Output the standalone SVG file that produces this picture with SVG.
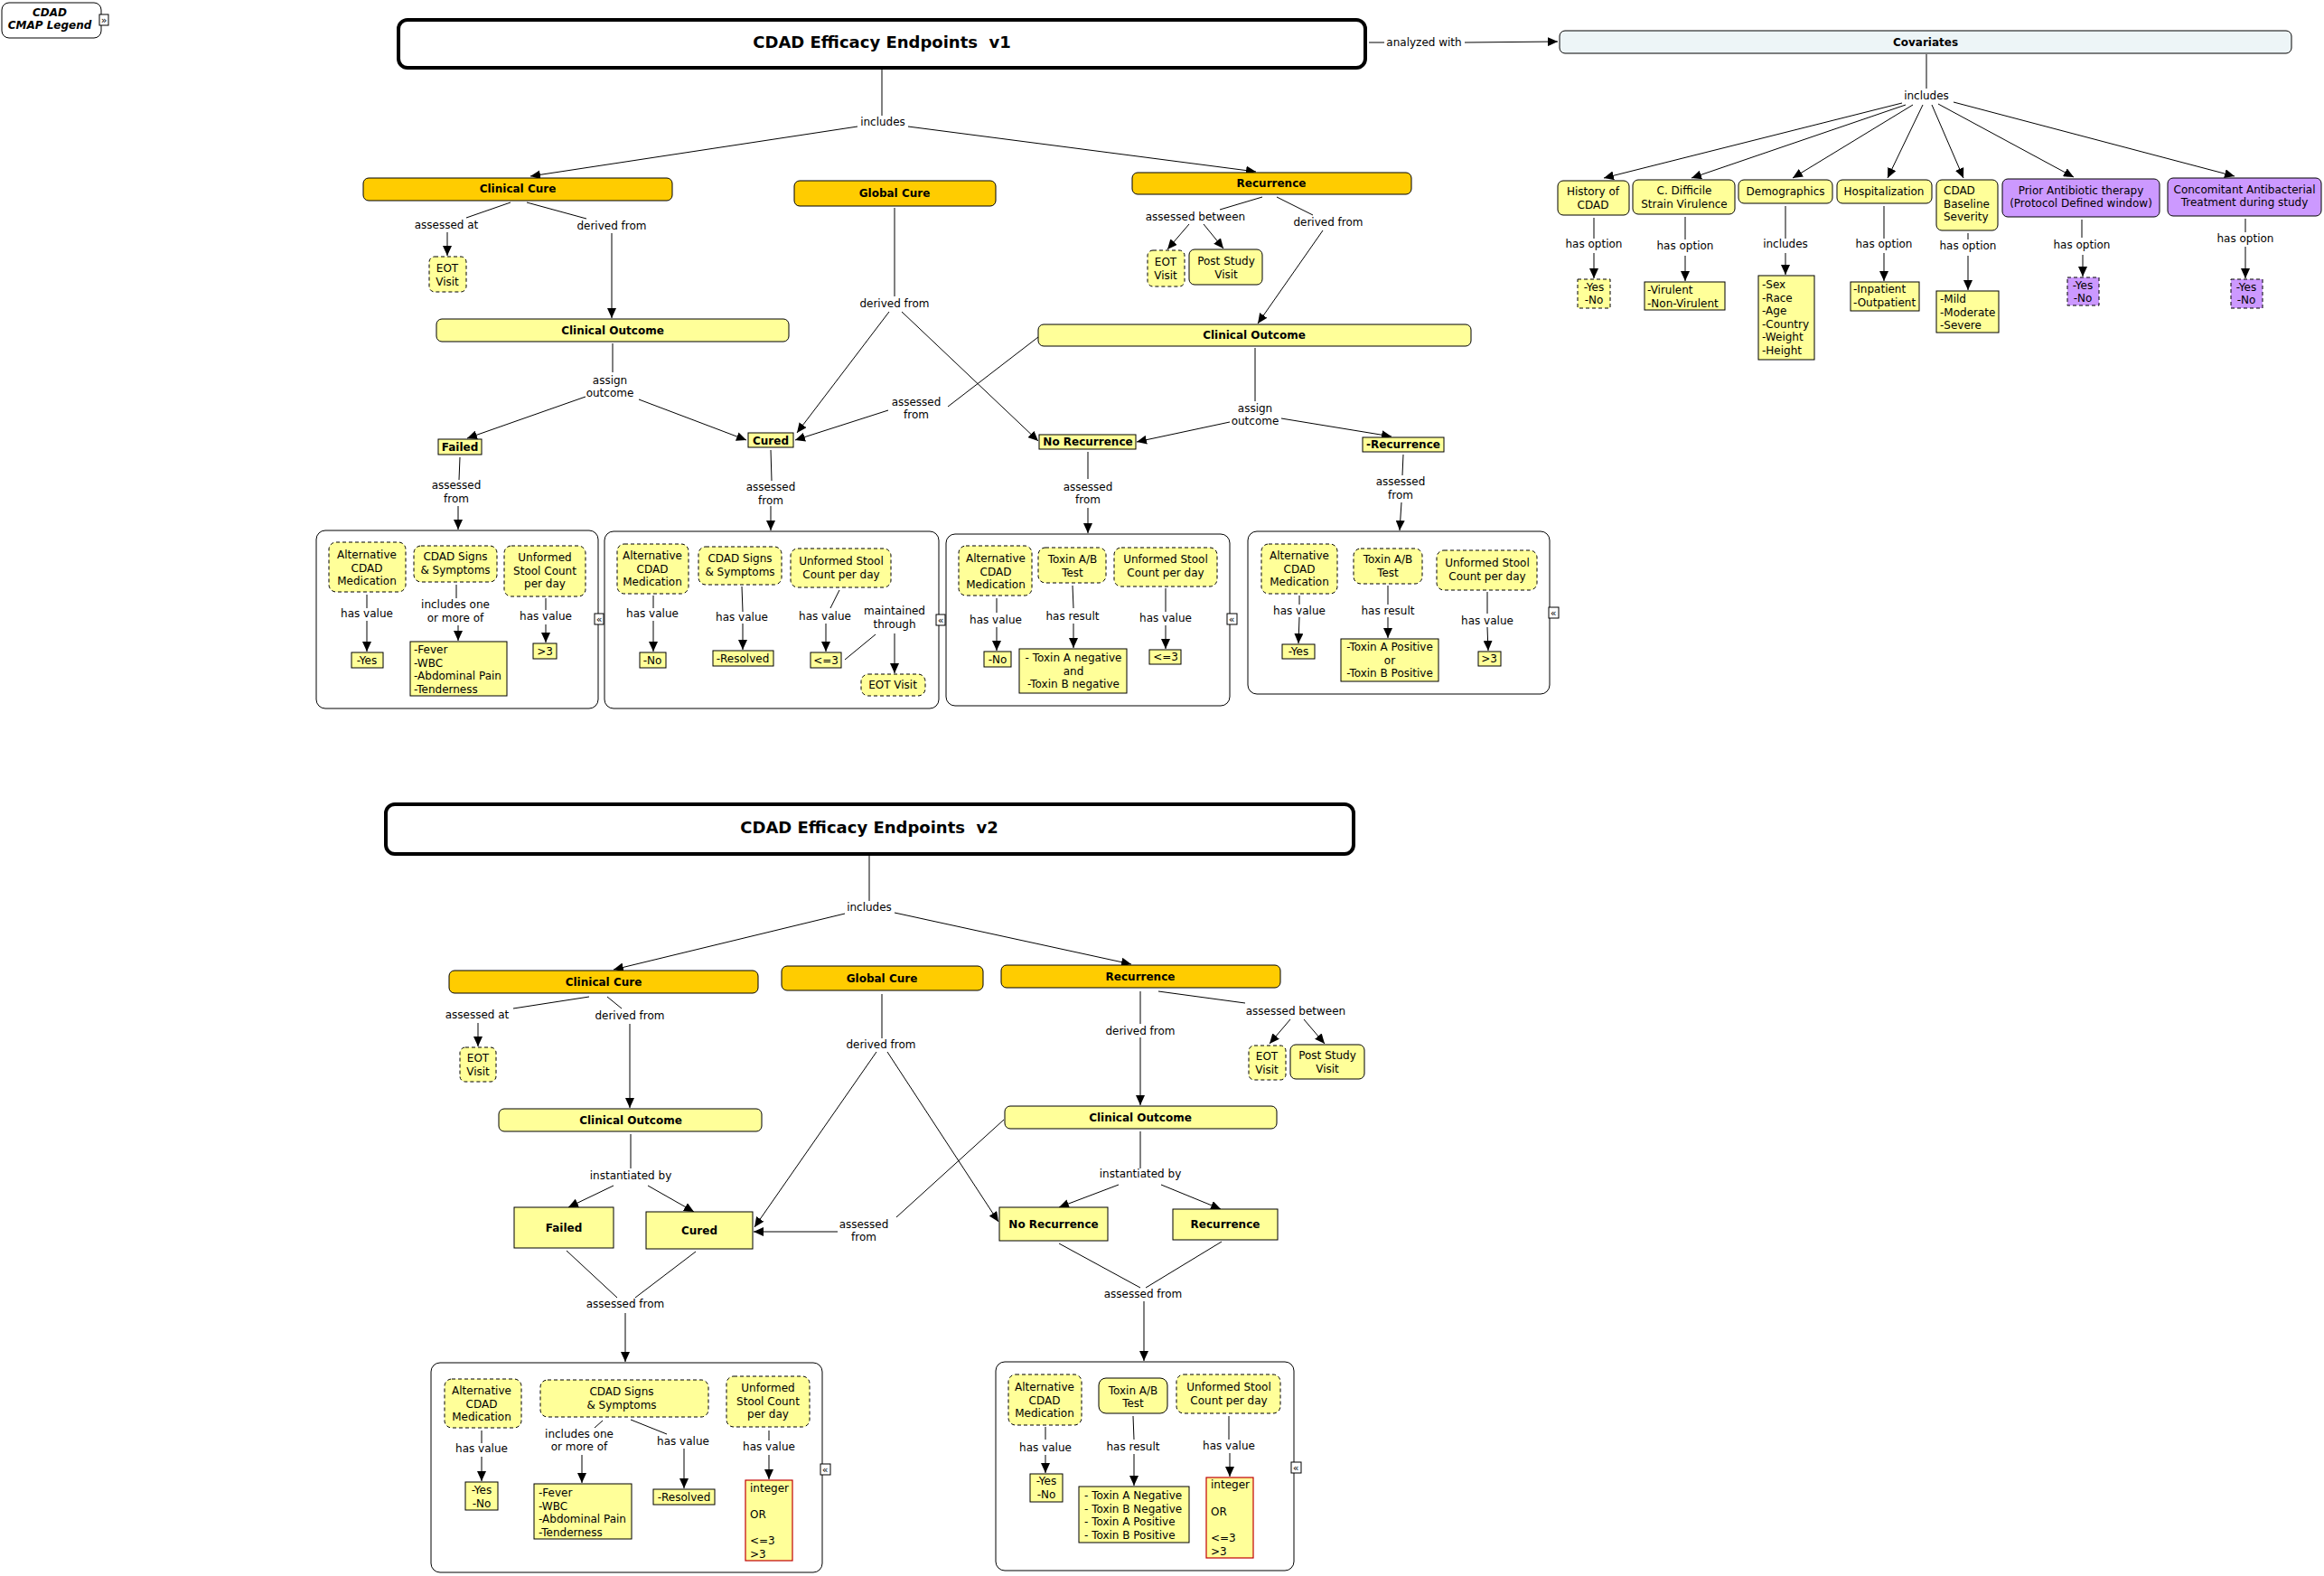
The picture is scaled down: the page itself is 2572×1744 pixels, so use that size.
<svg xmlns="http://www.w3.org/2000/svg" width="2572" height="1744" viewBox="0 0 2572 1744">
<style>
text{font-family:"DejaVu Sans",Verdana,sans-serif;font-size:12px;fill:#000}
.m{text-anchor:middle}
.b{font-weight:bold}
.t{font-size:18px;font-weight:bold;text-anchor:middle}
.ic{font-size:11px;text-anchor:middle}
.gold{fill:#FFCC00;stroke:#000;stroke-width:1}
.yel{fill:#FFFF99;stroke:#000;stroke-width:1}
.pur{fill:#CC99FF;stroke:#000;stroke-width:1}
.d{stroke-dasharray:4 3}
.red{fill:#FFFF99;stroke:#C00000;stroke-width:1.2}
.cont{fill:none;stroke:#000;stroke-width:1}
.ttl{fill:#fff;stroke:#000;stroke-width:4}
.icon{fill:#fff;stroke:#000;stroke-width:1}
#connectors line{stroke:#000;stroke-width:1;fill:none}
#connectors line.a{marker-end:url(#arr)}
</style>
<defs>
<marker id="arr" viewBox="0 0 11 10" refX="11" refY="5" markerWidth="11" markerHeight="10" markerUnits="userSpaceOnUse" orient="auto">
<path d="M0,0 L11,5 L0,10 z" fill="#000"/>
</marker>
</defs>
<rect width="2572" height="1744" fill="#fff"/>

<g id="connectors">
<!-- v1 top -->
<line x1="976" y1="77" x2="976" y2="128"/>
<line class="a" x1="949" y1="140" x2="587" y2="195"/>
<line class="a" x1="1005" y1="140" x2="1390" y2="190"/>
<line x1="1515" y1="47" x2="1532" y2="47"/>
<line class="a" x1="1621" y1="47" x2="1724" y2="46"/>
<!-- covariates -->
<line x1="2132" y1="60" x2="2132" y2="98"/>
<line class="a" x1="2105" y1="114" x2="1775" y2="197"/>
<line class="a" x1="2109" y1="116" x2="1872" y2="197"/>
<line class="a" x1="2117" y1="116" x2="1984" y2="197"/>
<line class="a" x1="2128" y1="116" x2="2089" y2="197"/>
<line class="a" x1="2138" y1="116" x2="2173" y2="197"/>
<line class="a" x1="2145" y1="115" x2="2295" y2="196"/>
<line class="a" x1="2162" y1="113" x2="2473" y2="195"/>
<line x1="1764" y1="241" x2="1764" y2="264"/>
<line class="a" x1="1764" y1="280" x2="1764" y2="308"/>
<line x1="1865" y1="240" x2="1865" y2="265"/>
<line class="a" x1="1865" y1="283" x2="1865" y2="311"/>
<line x1="1976" y1="228" x2="1976" y2="264"/>
<line class="a" x1="1976" y1="280" x2="1976" y2="304"/>
<line x1="2085" y1="228" x2="2085" y2="264"/>
<line class="a" x1="2085" y1="280" x2="2085" y2="311"/>
<line x1="2178" y1="258" x2="2178" y2="265"/>
<line class="a" x1="2178" y1="283" x2="2178" y2="321"/>
<line x1="2304" y1="243" x2="2304" y2="263"/>
<line class="a" x1="2305" y1="282" x2="2305" y2="306"/>
<line x1="2485" y1="242" x2="2485" y2="257"/>
<line class="a" x1="2485" y1="273" x2="2485" y2="308"/>
<!-- clinical cure v1 -->
<line x1="565" y1="224" x2="516" y2="241"/>
<line class="a" x1="495" y1="257" x2="495" y2="283"/>
<line x1="583" y1="224" x2="649" y2="242"/>
<line class="a" x1="677" y1="258" x2="677" y2="352"/>
<line x1="678" y1="380" x2="678" y2="412"/>
<line class="a" x1="648" y1="439" x2="517" y2="485"/>
<line class="a" x1="707" y1="442" x2="826" y2="487"/>
<line x1="509" y1="506" x2="508" y2="531"/>
<line class="a" x1="507" y1="560" x2="507" y2="586"/>
<line x1="853" y1="498" x2="854" y2="532"/>
<line class="a" x1="853" y1="560" x2="853" y2="587"/>
<!-- global cure v1 -->
<line x1="990" y1="230" x2="990" y2="328"/>
<line class="a" x1="984" y1="345" x2="882" y2="479"/>
<line class="a" x1="998" y1="345" x2="1149" y2="488"/>
<line x1="1049" y1="450" x2="1149" y2="373"/>
<line class="a" x1="983" y1="454" x2="880" y2="487"/>
<!-- recurrence v1 -->
<line x1="1397" y1="218" x2="1350" y2="232"/>
<line class="a" x1="1316" y1="248" x2="1292" y2="276"/>
<line class="a" x1="1332" y1="248" x2="1354" y2="275"/>
<line x1="1413" y1="218" x2="1453" y2="238"/>
<line class="a" x1="1464" y1="255" x2="1392" y2="358"/>
<line x1="1389" y1="385" x2="1389" y2="444"/>
<line class="a" x1="1361" y1="467" x2="1258" y2="489"/>
<line class="a" x1="1418" y1="463" x2="1540" y2="483"/>
<line x1="1204" y1="500" x2="1204" y2="530"/>
<line class="a" x1="1204" y1="562" x2="1204" y2="590"/>
<line x1="1553" y1="503" x2="1552" y2="526"/>
<line class="a" x1="1551" y1="556" x2="1549" y2="587"/>
<!-- container 1 -->
<line x1="406" y1="658" x2="406" y2="673"/>
<line class="a" x1="406" y1="687" x2="406" y2="721"/>
<line x1="505" y1="647" x2="505" y2="662"/>
<line class="a" x1="507" y1="692" x2="507" y2="709"/>
<line x1="604" y1="662" x2="604" y2="675"/>
<line class="a" x1="604" y1="691" x2="604" y2="711"/>
<!-- container 2 -->
<line x1="723" y1="659" x2="723" y2="673"/>
<line class="a" x1="723" y1="687" x2="723" y2="721"/>
<line x1="821" y1="649" x2="822" y2="677"/>
<line class="a" x1="822" y1="690" x2="822" y2="719"/>
<line x1="929" y1="653" x2="919" y2="673"/>
<line class="a" x1="914" y1="690" x2="914" y2="721"/>
<line x1="935" y1="730" x2="969" y2="702"/>
<line class="a" x1="990" y1="701" x2="990" y2="745"/>
<!-- container 3 -->
<line x1="1103" y1="662" x2="1103" y2="678"/>
<line class="a" x1="1103" y1="694" x2="1103" y2="720"/>
<line x1="1187" y1="648" x2="1188" y2="673"/>
<line class="a" x1="1188" y1="690" x2="1188" y2="717"/>
<line x1="1290" y1="651" x2="1290" y2="677"/>
<line class="a" x1="1290" y1="692" x2="1290" y2="718"/>
<!-- container 4 -->
<line x1="1438" y1="659" x2="1438" y2="669"/>
<line class="a" x1="1438" y1="683" x2="1437" y2="712"/>
<line x1="1536" y1="648" x2="1536" y2="669"/>
<line class="a" x1="1536" y1="683" x2="1536" y2="706"/>
<line x1="1646" y1="655" x2="1646" y2="679"/>
<line class="a" x1="1646" y1="694" x2="1647" y2="720"/>
<!-- v2 -->
<line x1="962" y1="947" x2="962" y2="997"/>
<line class="a" x1="935" y1="1011" x2="679" y2="1073"/>
<line class="a" x1="990" y1="1010" x2="1252" y2="1067"/>
<line x1="652" y1="1103" x2="568" y2="1116"/>
<line class="a" x1="529" y1="1132" x2="529" y2="1158"/>
<line x1="672" y1="1103" x2="688" y2="1116"/>
<line class="a" x1="697" y1="1133" x2="697" y2="1226"/>
<line x1="698" y1="1255" x2="698" y2="1293"/>
<line class="a" x1="679" y1="1312" x2="629" y2="1336"/>
<line class="a" x1="717" y1="1312" x2="768" y2="1341"/>
<line x1="976" y1="1100" x2="976" y2="1149"/>
<line class="a" x1="970" y1="1164" x2="835" y2="1358"/>
<line class="a" x1="982" y1="1164" x2="1105" y2="1352"/>
<line x1="992" y1="1347" x2="1111" y2="1239"/>
<line class="a" x1="927" y1="1363" x2="834" y2="1363"/>
<line x1="1262" y1="1097" x2="1262" y2="1133"/>
<line class="a" x1="1262" y1="1148" x2="1262" y2="1223"/>
<line x1="1282" y1="1097" x2="1378" y2="1110"/>
<line class="a" x1="1428" y1="1128" x2="1405" y2="1155"/>
<line class="a" x1="1443" y1="1128" x2="1466" y2="1155"/>
<line x1="1262" y1="1252" x2="1262" y2="1293"/>
<line class="a" x1="1238" y1="1311" x2="1172" y2="1336"/>
<line class="a" x1="1285" y1="1311" x2="1351" y2="1338"/>
<line x1="1172" y1="1376" x2="1262" y2="1425"/>
<line x1="1352" y1="1374" x2="1268" y2="1425"/>
<line class="a" x1="1266" y1="1440" x2="1266" y2="1506"/>
<line x1="627" y1="1384" x2="683" y2="1436"/>
<line x1="770" y1="1385" x2="703" y2="1436"/>
<line class="a" x1="692" y1="1453" x2="692" y2="1507"/>
<!-- container L2 -->
<line x1="533" y1="1583" x2="533" y2="1597"/>
<line class="a" x1="533" y1="1612" x2="533" y2="1639"/>
<line x1="667" y1="1572" x2="658" y2="1580"/>
<line class="a" x1="644" y1="1610" x2="644" y2="1641"/>
<line x1="698" y1="1571" x2="738" y2="1587"/>
<line class="a" x1="757" y1="1603" x2="757" y2="1647"/>
<line x1="851" y1="1583" x2="851" y2="1594"/>
<line class="a" x1="851" y1="1610" x2="851" y2="1637"/>
<!-- container R2 -->
<line x1="1157" y1="1579" x2="1157" y2="1593"/>
<line class="a" x1="1157" y1="1610" x2="1157" y2="1630"/>
<line x1="1254" y1="1567" x2="1255" y2="1593"/>
<line class="a" x1="1255" y1="1609" x2="1255" y2="1644"/>
<line x1="1360" y1="1567" x2="1360" y2="1593"/>
<line class="a" x1="1361" y1="1608" x2="1361" y2="1634"/>
</g>

<g id="labels">
<text id="l-analyzed" class="m" x="1576" y="51">analyzed with</text>
<text id="l-inc1" class="m" x="977" y="139">includes</text>
<text id="l-inccov" class="m" x="2132" y="110">includes</text>
<text id="l-ho1" class="m" x="1764" y="274">has option</text>
<text id="l-ho2" class="m" x="1865" y="276">has option</text>
<text id="l-inc-dem" class="m" x="1976" y="274">includes</text>
<text id="l-ho3" class="m" x="2085" y="274">has option</text>
<text id="l-ho4" class="m" x="2178" y="276">has option</text>
<text id="l-ho5" class="m" x="2304" y="275">has option</text>
<text id="l-ho6" class="m" x="2485" y="268">has option</text>
<text id="l-aat1" class="m" x="494" y="253">assessed at</text>
<text id="l-df1" class="m" x="677" y="254">derived from</text>
<text id="l-ao1" class="m" x="675" y="425">assign<tspan x="675" dy="14">outcome</tspan></text>
<text id="l-af1" class="m" x="505" y="541">assessed<tspan x="505" dy="15">from</tspan></text>
<text id="l-af2" class="m" x="853" y="543">assessed<tspan x="853" dy="15">from</tspan></text>
<text id="l-dfg1" class="m" x="990" y="340">derived from</text>
<text id="l-af3" class="m" x="1014" y="449">assessed<tspan x="1014" dy="14">from</tspan></text>
<text id="l-ab1" class="m" x="1323" y="244">assessed between</text>
<text id="l-dfr1" class="m" x="1470" y="250">derived from</text>
<text id="l-ao2" class="m" x="1389" y="456">assign<tspan x="1389" dy="14">outcome</tspan></text>
<text id="l-af4" class="m" x="1204" y="543">assessed<tspan x="1204" dy="14">from</tspan></text>
<text id="l-af5" class="m" x="1550" y="537">assessed<tspan x="1550" dy="15">from</tspan></text>
<text id="l-c1hv1" class="m" x="406" y="683">has value</text>
<text id="l-c1inc" class="m" x="504" y="673">includes one<tspan x="504" dy="15">or more of</tspan></text>
<text id="l-c1hv2" class="m" x="604" y="686">has value</text>
<text id="l-c2hv1" class="m" x="722" y="683">has value</text>
<text id="l-c2hv2" class="m" x="821" y="687">has value</text>
<text id="l-c2hv3" class="m" x="913" y="686">has value</text>
<text id="l-c2mt" class="m" x="990" y="680">maintained<tspan x="990" dy="15">through</tspan></text>
<text id="l-c3hv1" class="m" x="1102" y="690">has value</text>
<text id="l-c3hr" class="m" x="1187" y="686">has result</text>
<text id="l-c3hv2" class="m" x="1290" y="688">has value</text>
<text id="l-c4hv1" class="m" x="1438" y="680">has value</text>
<text id="l-c4hr" class="m" x="1536" y="680">has result</text>
<text id="l-c4hv2" class="m" x="1646" y="691">has value</text>
<text id="l-inc2" class="m" x="962" y="1008">includes</text>
<text id="l-aat2" class="m" x="528" y="1127">assessed at</text>
<text id="l-df2" class="m" x="697" y="1128">derived from</text>
<text id="l-ib1" class="m" x="698" y="1305">instantiated by</text>
<text id="l-dfg2" class="m" x="975" y="1160">derived from</text>
<text id="l-af6" class="m" x="956" y="1359">assessed<tspan x="956" dy="14">from</tspan></text>
<text id="l-dfr2" class="m" x="1262" y="1145">derived from</text>
<text id="l-ab2" class="m" x="1434" y="1123">assessed between</text>
<text id="l-ib2" class="m" x="1262" y="1303">instantiated by</text>
<text id="l-af7" class="m" x="1265" y="1436">assessed from</text>
<text id="l-af8" class="m" x="692" y="1447">assessed from</text>
<text id="l-l2hv1" class="m" x="533" y="1607">has value</text>
<text id="l-l2inc" class="m" x="641" y="1591">includes one<tspan x="641" dy="14">or more of</tspan></text>
<text id="l-l2hv2" class="m" x="756" y="1599">has value</text>
<text id="l-l2hv3" class="m" x="851" y="1605">has value</text>
<text id="l-r2hv1" class="m" x="1157" y="1606">has value</text>
<text id="l-r2hr" class="m" x="1254" y="1605">has result</text>
<text id="l-r2hv2" class="m" x="1360" y="1604">has value</text>
</g>

<g id="legend">
<rect x="2" y="3" width="110" height="39" rx="8" fill="#fff" stroke="#000"/>
<text class="m b" font-style="italic" x="55" y="18">CDAD</text>
<text class="m b" font-style="italic" x="55" y="32">CMAP Legend</text>
<rect class="icon" x="110" y="16" width="10" height="12"/>
<text class="ic" x="115" y="26">»</text>
</g>

<g id="title-v1"><rect class="ttl" x="441" y="22" width="1070" height="53" rx="10"/><text class="t" x="976" y="53">CDAD Efficacy Endpoints&#160; v1</text></g>
<g id="covariates"><rect x="1726" y="34" width="810" height="25" rx="6" fill="#EDF5F7" stroke="#000"/><text class="m b" x="2131" y="51">Covariates</text></g>

<g id="cov-history"><rect class="yel" x="1724" y="200" width="79" height="38" rx="6"/><text class="m" x="1763" y="216">History of<tspan x="1763" dy="15">CDAD</tspan></text></g>
<g id="cov-strain"><rect class="yel" x="1807" y="199" width="113" height="38" rx="6"/><text class="m" x="1864" y="215">C. Difficile<tspan x="1864" dy="15">Strain Virulence</tspan></text></g>
<g id="cov-demo"><rect class="yel" x="1924" y="199" width="104" height="26" rx="6"/><text class="m" x="1976" y="216">Demographics</text></g>
<g id="cov-hosp"><rect class="yel" x="2033" y="199" width="105" height="26" rx="6"/><text class="m" x="2085" y="216">Hospitalization</text></g>
<g id="cov-sev"><rect class="yel" x="2143" y="199" width="68" height="56" rx="6"/><text x="2151" y="215">CDAD<tspan x="2151" dy="15">Baseline</tspan><tspan x="2151" dy="14">Severity</tspan></text></g>
<g id="cov-prior"><rect class="pur" x="2216" y="198" width="174" height="42" rx="6"/><text class="m" x="2303" y="215">Prior Antibiotic therapy<tspan x="2303" dy="14">(Protocol Defined window)</tspan></text></g>
<g id="cov-conc"><rect class="pur" x="2399" y="197" width="170" height="42" rx="6"/><text class="m" x="2484" y="214">Concomitant Antibacterial<tspan x="2484" dy="14">Treatment during study</tspan></text></g>
<g id="opt-history"><rect class="yel d" x="1746" y="309" width="36" height="32"/><text class="m" x="1764" y="322">-Yes<tspan x="1764" dy="14">-No</tspan></text></g>
<g id="opt-strain"><rect class="yel" x="1820" y="312" width="89" height="31"/><text x="1823" y="325">-Virulent<tspan x="1823" dy="15">-Non-Virulent</tspan></text></g>
<g id="opt-demo"><rect class="yel" x="1946" y="305" width="62" height="93"/><text x="1950" y="319">-Sex<tspan x="1950" dy="14.6">-Race</tspan><tspan x="1950" dy="14.6">-Age</tspan><tspan x="1950" dy="14.6">-Country</tspan><tspan x="1950" dy="14.6">-Weight</tspan><tspan x="1950" dy="14.6">-Height</tspan></text></g>
<g id="opt-hosp"><rect class="yel" x="2048" y="312" width="76" height="32"/><text x="2051" y="324">-Inpatient<tspan x="2051" dy="14.5">-Outpatient</tspan></text></g>
<g id="opt-sev"><rect class="yel" x="2143" y="322" width="69" height="46"/><text x="2147" y="335">-Mild<tspan x="2147" dy="14.5">-Moderate</tspan><tspan x="2147" dy="14.5">-Severe</tspan></text></g>
<g id="opt-prior"><rect class="pur d" x="2288" y="307" width="35" height="31"/><text class="m" x="2305" y="320">-Yes<tspan x="2305" dy="14">-No</tspan></text></g>
<g id="opt-conc"><rect class="pur d" x="2469" y="309" width="35" height="32"/><text class="m" x="2486" y="322">-Yes<tspan x="2486" dy="14">-No</tspan></text></g>

<g id="v1-clinical-cure"><rect class="gold" x="402" y="197" width="342" height="25" rx="6"/><text class="m b" x="573" y="213">Clinical Cure</text></g>
<g id="v1-global-cure"><rect class="gold" x="879" y="200" width="223" height="28" rx="6"/><text class="m b" x="990" y="218">Global Cure</text></g>
<g id="v1-recurrence"><rect class="gold" x="1253" y="191" width="309" height="24" rx="6"/><text class="m b" x="1407" y="207">Recurrence</text></g>
<g id="v1-eot1"><rect class="yel d" x="475" y="284" width="41" height="39" rx="6"/><text class="m" x="495" y="301">EOT<tspan x="495" dy="15">Visit</tspan></text></g>
<g id="v1-outcome-l"><rect class="yel" x="483" y="353" width="390" height="25" rx="6"/><text class="m b" x="678" y="370">Clinical Outcome</text></g>
<g id="v1-failed"><rect class="yel" x="485" y="486" width="48" height="17"/><text class="m b" x="509" y="499">Failed</text></g>
<g id="v1-cured"><rect class="yel" x="828" y="479" width="50" height="16"/><text class="m b" x="853" y="492">Cured</text></g>
<g id="v1-eot2"><rect class="yel d" x="1270" y="277" width="41" height="40" rx="6"/><text class="m" x="1290" y="294">EOT<tspan x="1290" dy="15">Visit</tspan></text></g>
<g id="v1-post"><rect class="yel" x="1316" y="276" width="81" height="39" rx="6"/><text class="m" x="1357" y="293">Post Study<tspan x="1357" dy="15">Visit</tspan></text></g>
<g id="v1-outcome-r"><rect class="yel" x="1149" y="359" width="479" height="24" rx="6"/><text class="m b" x="1388" y="375">Clinical Outcome</text></g>
<g id="v1-norec"><rect class="yel" x="1150" y="481" width="107" height="16"/><text class="m b" x="1204" y="493">No Recurrence</text></g>
<g id="v1-rec"><rect class="yel" x="1508" y="484" width="90" height="16"/><text class="m b" x="1553" y="496">-Recurrence</text></g>

<g id="v1-box-failed">
<rect class="cont" x="350" y="587" width="312" height="197" rx="10"/>
<rect class="yel d" x="364" y="600" width="85" height="55" rx="8"/><text class="m" x="406" y="618">Alternative<tspan x="406" dy="14.5">CDAD</tspan><tspan x="406" dy="14.5">Medication</tspan></text>
<rect class="yel" x="389" y="722" width="35" height="17"/><text class="m" x="406" y="735">-Yes</text>
<rect class="yel d" x="458" y="604" width="92" height="40" rx="8"/><text class="m" x="504" y="620">CDAD Signs<tspan x="504" dy="14.5">&amp; Symptoms</tspan></text>
<rect class="yel" x="454" y="710" width="107" height="60"/><text x="458" y="723">-Fever<tspan x="458" dy="14.5">-WBC</tspan><tspan x="458" dy="14.5">-Abdominal Pain</tspan><tspan x="458" dy="14.5">-Tenderness</tspan></text>
<rect class="yel d" x="558" y="604" width="90" height="56" rx="8"/><text class="m" x="603" y="621">Unformed<tspan x="603" dy="14.5">Stool Count</tspan><tspan x="603" dy="14.5">per day</tspan></text>
<rect class="yel" x="590" y="712" width="26" height="17"/><text class="m" x="603" y="725">&gt;3</text>
<rect class="icon" x="658" y="679" width="10" height="12"/><text class="ic" x="663" y="689">«</text>
</g>
<g id="v1-box-cured">
<rect class="cont" x="669" y="588" width="370" height="196" rx="10"/>
<rect class="yel d" x="683" y="602" width="79" height="55" rx="8"/><text class="m" x="722" y="619">Alternative<tspan x="722" dy="14.5">CDAD</tspan><tspan x="722" dy="14.5">Medication</tspan></text>
<rect class="yel" x="708" y="722" width="29" height="17"/><text class="m" x="722" y="735">-No</text>
<rect class="yel d" x="773" y="605" width="92" height="42" rx="8"/><text class="m" x="819" y="622">CDAD Signs<tspan x="819" dy="14.5">&amp; Symptoms</tspan></text>
<rect class="yel" x="789" y="720" width="67" height="17"/><text class="m" x="822" y="733">-Resolved</text>
<rect class="yel d" x="875" y="607" width="111" height="43" rx="8"/><text class="m" x="931" y="625">Unformed Stool<tspan x="931" dy="14.5">Count per day</tspan></text>
<rect class="yel" x="897" y="722" width="34" height="17"/><text class="m" x="914" y="735">&lt;=3</text>
<rect class="yel d" x="953" y="746" width="71" height="24" rx="8"/><text class="m" x="988" y="762">EOT Visit</text>
<rect class="icon" x="1036" y="680" width="10" height="12"/><text class="ic" x="1041" y="690">«</text>
</g>
<g id="v1-box-norec">
<rect class="cont" x="1047" y="591" width="314" height="190" rx="10"/>
<rect class="yel d" x="1061" y="604" width="81" height="55" rx="8"/><text class="m" x="1102" y="622">Alternative<tspan x="1102" dy="14.5">CDAD</tspan><tspan x="1102" dy="14.5">Medication</tspan></text>
<rect class="yel" x="1089" y="721" width="30" height="17"/><text class="m" x="1104" y="734">-No</text>
<rect class="yel d" x="1149" y="606" width="75" height="39" rx="8"/><text class="m" x="1187" y="623">Toxin A/B<tspan x="1187" dy="14.5">Test</tspan></text>
<rect class="yel" x="1128" y="718" width="119" height="49"/><text class="m" x="1188" y="732">- Toxin A negative<tspan x="1188" dy="14.5">and</tspan><tspan x="1188" dy="14.5">-Toxin B negative</tspan></text>
<rect class="yel d" x="1233" y="606" width="114" height="43" rx="8"/><text class="m" x="1290" y="623">Unformed Stool<tspan x="1290" dy="14.5">Count per day</tspan></text>
<rect class="yel" x="1272" y="719" width="35" height="16"/><text class="m" x="1290" y="731">&lt;=3</text>
<rect class="icon" x="1358" y="679" width="11" height="12"/><text class="ic" x="1363" y="689">«</text>
</g>
<g id="v1-box-rec">
<rect class="cont" x="1381" y="588" width="334" height="180" rx="10"/>
<rect class="yel d" x="1396" y="602" width="84" height="55" rx="8"/><text class="m" x="1438" y="619">Alternative<tspan x="1438" dy="14.5">CDAD</tspan><tspan x="1438" dy="14.5">Medication</tspan></text>
<rect class="yel" x="1419" y="713" width="36" height="16"/><text class="m" x="1437" y="725">-Yes</text>
<rect class="yel d" x="1498" y="607" width="76" height="39" rx="8"/><text class="m" x="1536" y="623">Toxin A/B<tspan x="1536" dy="14.5">Test</tspan></text>
<rect class="yel" x="1484" y="707" width="108" height="47"/><text class="m" x="1538" y="720">-Toxin A Positive<tspan x="1538" dy="14.5">or</tspan><tspan x="1538" dy="14.5">-Toxin B Positive</tspan></text>
<rect class="yel d" x="1590" y="609" width="111" height="44" rx="8"/><text class="m" x="1646" y="627">Unformed Stool<tspan x="1646" dy="14.5">Count per day</tspan></text>
<rect class="yel" x="1636" y="721" width="25" height="16"/><text class="m" x="1648" y="733">&gt;3</text>
<rect class="icon" x="1714" y="672" width="11" height="12"/><text class="ic" x="1719" y="682">«</text>
</g>

<g id="title-v2"><rect class="ttl" x="427" y="890" width="1071" height="55" rx="10"/><text class="t" x="962" y="922">CDAD Efficacy Endpoints&#160; v2</text></g>
<g id="v2-clinical-cure"><rect class="gold" x="497" y="1074" width="342" height="25" rx="6"/><text class="m b" x="668" y="1091">Clinical Cure</text></g>
<g id="v2-global-cure"><rect class="gold" x="865" y="1069" width="223" height="27" rx="6"/><text class="m b" x="976" y="1087">Global Cure</text></g>
<g id="v2-recurrence"><rect class="gold" x="1108" y="1068" width="309" height="25" rx="6"/><text class="m b" x="1262" y="1085">Recurrence</text></g>
<g id="v2-eot1"><rect class="yel d" x="509" y="1159" width="40" height="38" rx="6"/><text class="m" x="529" y="1175">EOT<tspan x="529" dy="14.5">Visit</tspan></text></g>
<g id="v2-outcome-l"><rect class="yel" x="552" y="1227" width="291" height="25" rx="6"/><text class="m b" x="698" y="1244">Clinical Outcome</text></g>
<g id="v2-failed"><rect class="yel" x="569" y="1336" width="110" height="45"/><text class="m b" x="624" y="1363">Failed</text></g>
<g id="v2-cured"><rect class="yel" x="715" y="1341" width="118" height="41"/><text class="m b" x="774" y="1366">Cured</text></g>
<g id="v2-eot2"><rect class="yel d" x="1382" y="1157" width="41" height="38" rx="6"/><text class="m" x="1402" y="1173">EOT<tspan x="1402" dy="14.5">Visit</tspan></text></g>
<g id="v2-post"><rect class="yel" x="1428" y="1156" width="82" height="38" rx="6"/><text class="m" x="1469" y="1172">Post Study<tspan x="1469" dy="15">Visit</tspan></text></g>
<g id="v2-outcome-r"><rect class="yel" x="1112" y="1224" width="301" height="25" rx="6"/><text class="m b" x="1262" y="1241">Clinical Outcome</text></g>
<g id="v2-norec"><rect class="yel" x="1106" y="1336" width="120" height="37"/><text class="m b" x="1166" y="1359">No Recurrence</text></g>
<g id="v2-rec"><rect class="yel" x="1298" y="1338" width="116" height="34"/><text class="m b" x="1356" y="1359">Recurrence</text></g>

<g id="v2-box-clinical">
<rect class="cont" x="477" y="1508" width="433" height="232" rx="10"/>
<rect class="yel d" x="492" y="1526" width="85" height="54" rx="8"/><text class="m" x="533" y="1543">Alternative<tspan x="533" dy="14.5">CDAD</tspan><tspan x="533" dy="14.5">Medication</tspan></text>
<rect class="yel" x="515" y="1640" width="36" height="31"/><text class="m" x="533" y="1653">-Yes<tspan x="533" dy="14.5">-No</tspan></text>
<rect class="yel d" x="598" y="1527" width="186" height="41" rx="8"/><text class="m" x="688" y="1544">CDAD Signs<tspan x="688" dy="14.5">&amp; Symptoms</tspan></text>
<rect class="yel" x="591" y="1642" width="108" height="61"/><text x="596" y="1656">-Fever<tspan x="596" dy="14.6">-WBC</tspan><tspan x="596" dy="14.6">-Abdominal Pain</tspan><tspan x="596" dy="14.6">-Tenderness</tspan></text>
<rect class="yel" x="723" y="1648" width="68" height="17"/><text class="m" x="757" y="1661">-Resolved</text>
<rect class="yel d" x="804" y="1523" width="92" height="56" rx="8"/><text class="m" x="850" y="1540">Unformed<tspan x="850" dy="14.5">Stool Count</tspan><tspan x="850" dy="14.5">per day</tspan></text>
<rect class="red" x="825" y="1638" width="52" height="89"/><text x="830" y="1651">integer<tspan x="830" dy="29">OR</tspan><tspan x="830" dy="29">&lt;=3</tspan><tspan x="830" dy="15">&gt;3</tspan></text>
<rect class="icon" x="908" y="1620" width="11" height="12"/><text class="ic" x="913" y="1630">«</text>
</g>
<g id="v2-box-recurrence">
<rect class="cont" x="1102" y="1507" width="330" height="231" rx="10"/>
<rect class="yel d" x="1116" y="1521" width="81" height="56" rx="8"/><text class="m" x="1156" y="1539">Alternative<tspan x="1156" dy="14.5">CDAD</tspan><tspan x="1156" dy="14.5">Medication</tspan></text>
<rect class="yel" x="1140" y="1631" width="36" height="31"/><text class="m" x="1158" y="1643">-Yes<tspan x="1158" dy="15">-No</tspan></text>
<rect class="yel" x="1216" y="1525" width="76" height="39" rx="8"/><text class="m" x="1254" y="1543">Toxin A/B<tspan x="1254" dy="14">Test</tspan></text>
<rect class="yel" x="1194" y="1645" width="122" height="62"/><text x="1200" y="1659">- Toxin A Negative<tspan x="1200" dy="14.5">- Toxin B Negative</tspan><tspan x="1200" dy="14.5">- Toxin A Positive</tspan><tspan x="1200" dy="14.5">- Toxin B Positive</tspan></text>
<rect class="yel d" x="1302" y="1521" width="115" height="43" rx="8"/><text class="m" x="1360" y="1539">Unformed Stool<tspan x="1360" dy="15">Count per day</tspan></text>
<rect class="red" x="1335" y="1635" width="52" height="89"/><text x="1340" y="1647">integer<tspan x="1340" dy="30">OR</tspan><tspan x="1340" dy="29">&lt;=3</tspan><tspan x="1340" dy="15">&gt;3</tspan></text>
<rect class="icon" x="1429" y="1618" width="11" height="12"/><text class="ic" x="1434" y="1628">«</text>
</g>
</svg>
